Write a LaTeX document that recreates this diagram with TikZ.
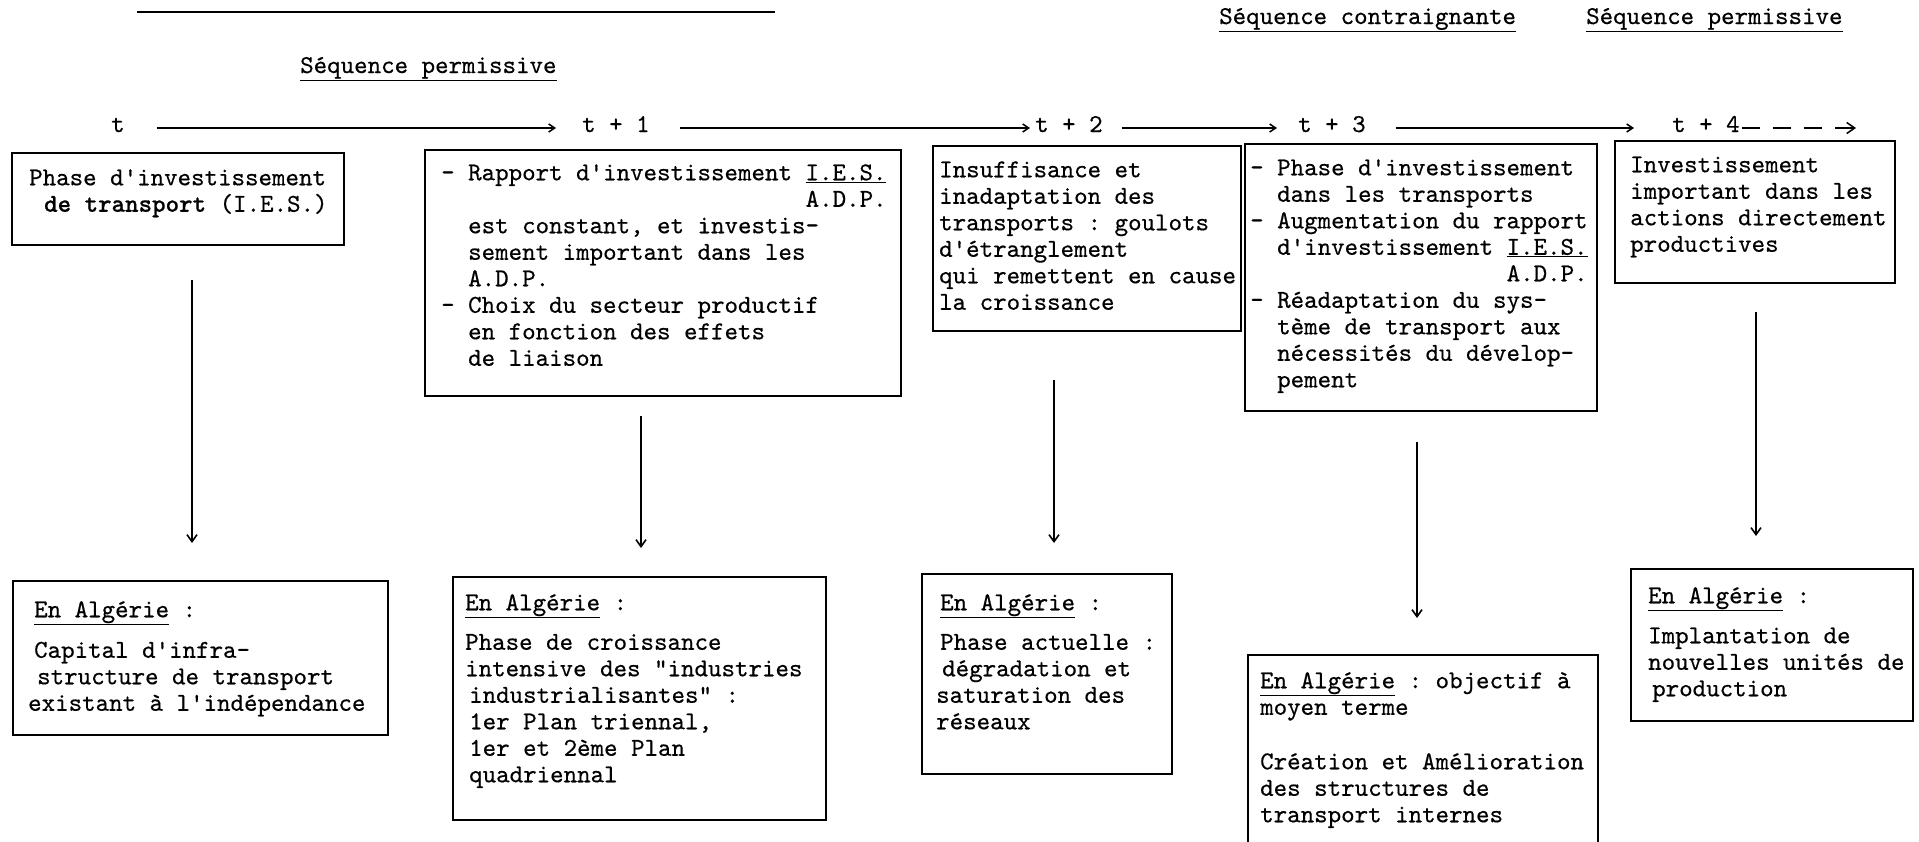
\documentclass[tikz,border=0pt]{standalone}
\usepackage{fontspec}
\setmonofont{lmmono10-regular}[Extension=.otf, BoldFont=lmmonolt10-bold, FakeBold=0.5]
\usetikzlibrary{arrows.meta}
\newlength\cw
\setlength\cw{13.5pt}
\begin{document}
\begin{tikzpicture}[x=1pt,y=-1pt,
  tfont/.style={font=\ttfamily\fontsize{25.7}{26.5}\selectfont\frenchspacing},
  frame/.style={draw, line width=2pt, anchor=north west, inner sep=0pt},
  txt/.style={tfont, anchor=north west, inner sep=0pt, align=left},
  lbl/.style={tfont, anchor=base west, inner sep=0pt},
  tm/.style={tfont, anchor=base west, inner sep=0pt, text height=8pt, text depth=0pt},
  tarrow/.style={line width=1.5pt, -{Straight Barb[length=6pt,width=8pt]}},
  conn/.style={line width=1.6pt, -{Straight Barb[length=7pt,width=10pt]}},
]
\useasboundingbox (0,0) rectangle (1919,841);

% header line and sequence labels
\draw[line width=2pt] (137,12) -- (775,12);
\node[lbl] (s1) at (300,73) {\underline{Séquence permissive}};
\node[lbl] (s2) at (1219,24) {\underline{Séquence contraignante}};
\node[lbl] (s3) at (1586,24) {\underline{Séquence permissive}};

% time axis
\node[tm] (t0) at (111,132) {t};
\node[tm] (t1) at (582,132) {t + 1};
\node[tm] (t2) at (1035,132) {t + 2};
\node[tm] (t3) at (1298,132) {t + 3};
\node[tm] (t4) at (1672,132) {t + 4};
\coordinate (tend) at (1856,128);
\draw[tarrow, shorten <=32pt, shorten >=26pt] (t0) -- (t1);
\draw[tarrow, shorten <=30pt, shorten >=5pt] (t1) -- (t2);
\draw[tarrow, shorten <=19pt, shorten >=21pt] (t2) -- (t3);
\draw[tarrow, shorten <=30pt, shorten >=38pt] (t3) -- (t4);
\draw[line width=1.5pt, dash pattern=on 18pt off 13pt, shorten <=2pt,
  -{Straight Barb[length=8pt,width=11pt]}] (t4) -- (tend);

% top boxes
\node[frame, minimum width=332pt, minimum height=92pt] (b1) at (11,152) {};
\node[txt] (b1t) at (29,166.5) {\strut Phase d'investissement\\
\hspace*{15pt}\textbf{de transport} (I.E.S.)};

\node[frame, minimum width=476pt, minimum height=246pt] (b2) at (424,149) {};
\node[txt] (b2t) at (441,161.5) {\strut - Rapport d'investissement \underline{I.E.S.}\\
\hspace*{27\cw}A.D.P.\\
\hspace*{2\cw}est constant, et investis-\\
\hspace*{2\cw}sement important dans les\\
\hspace*{2\cw}A.D.P.\\
- Choix du secteur productif\\
\hspace*{2\cw}en fonction des effets\\
\hspace*{2\cw}de liaison};

\node[frame, minimum width=308pt, minimum height=185pt] (b3) at (932,145) {};
\node[txt] (b3t) at (939,158.5) {\strut Insuffisance et\\
inadaptation des\\
transports : goulots\\
d'étranglement\\
qui remettent en cause\\
la croissance};

\node[frame, minimum width=352pt, minimum height=267pt] (b4) at (1244,143) {};
\node[txt] (b4t) at (1250,156.5) {\strut - Phase d'investissement\\
\hspace*{2\cw}dans les transports\\
- Augmentation du rapport\\
\hspace*{2\cw}d'investissement \underline{I.E.S.}\\
\hspace*{19\cw}A.D.P.\\
- Réadaptation du sys-\\
\hspace*{2\cw}tème de transport aux\\
\hspace*{2\cw}nécessités du dévelop-\\
\hspace*{2\cw}pement};

\node[frame, minimum width=280pt, minimum height=142pt] (b5) at (1614,140) {};
\node[txt] (b5t) at (1630,153.5) {\strut Investissement\\
important dans les\\
actions directement\\
productives};

% bottom boxes
\node[frame, minimum width=375pt, minimum height=154pt] (c1) at (12,580) {};
\node[txt] (c1t) at (34,598.5) {\strut\underline{En Algérie} :\\[14pt]
Capital d'infra-\\
\hspace*{3pt}structure de transport\\
\hspace*{-6pt}existant à l'indépendance};

\node[frame, minimum width=373pt, minimum height=243pt] (c2) at (452,576) {};
\node[txt] (c2t) at (465,591.5) {\strut\underline{En Algérie} :\\[13pt]
Phase de croissance\\
intensive des "industries\\
\hspace*{4pt}industrialisantes" :\\
\hspace*{4pt}1er Plan triennal,\\
\hspace*{4pt}1er et 2ème Plan\\
\hspace*{4pt}quadriennal};

\node[frame, minimum width=250pt, minimum height=200pt] (c3) at (921,573) {};
\node[txt] (c3t) at (940,591.5) {\strut\underline{En Algérie} :\\[13pt]
Phase actuelle :\\
\hspace*{2pt}dégradation et\\
\hspace*{-4pt}saturation des\\
\hspace*{-4pt}réseaux};

\node[frame, minimum width=350pt, minimum height=220pt] (c4) at (1247,654) {};
\node[txt] (c4t) at (1260,669.5) {\strut\underline{En Algérie} : objectif à\\
moyen terme\\[28pt]
Création et Amélioration\\
des structures de\\
transport internes};

\node[frame, minimum width=282pt, minimum height=152pt] (c5) at (1630,568) {};
\node[txt] (c5t) at (1648,584.5) {\strut\underline{En Algérie} :\\[13.5pt]
Implantation de\\
nouvelles unités de\\
\hspace*{4pt}production};

% vertical connectors
\coordinate (v1s) at (192,280);  \coordinate (v1e) at (192,543);
\coordinate (v2s) at (641,416);  \coordinate (v2e) at (641,548);
\coordinate (v3s) at (1054,380); \coordinate (v3e) at (1054,543);
\coordinate (v4s) at (1417,442); \coordinate (v4e) at (1417,618);
\coordinate (v5s) at (1756,312); \coordinate (v5e) at (1756,536);
\draw[conn] (v1s) -- (v1e);
\draw[conn] (v2s) -- (v2e);
\draw[conn] (v3s) -- (v3e);
\draw[conn] (v4s) -- (v4e);
\draw[conn] (v5s) -- (v5e);
\end{tikzpicture}
\end{document}
